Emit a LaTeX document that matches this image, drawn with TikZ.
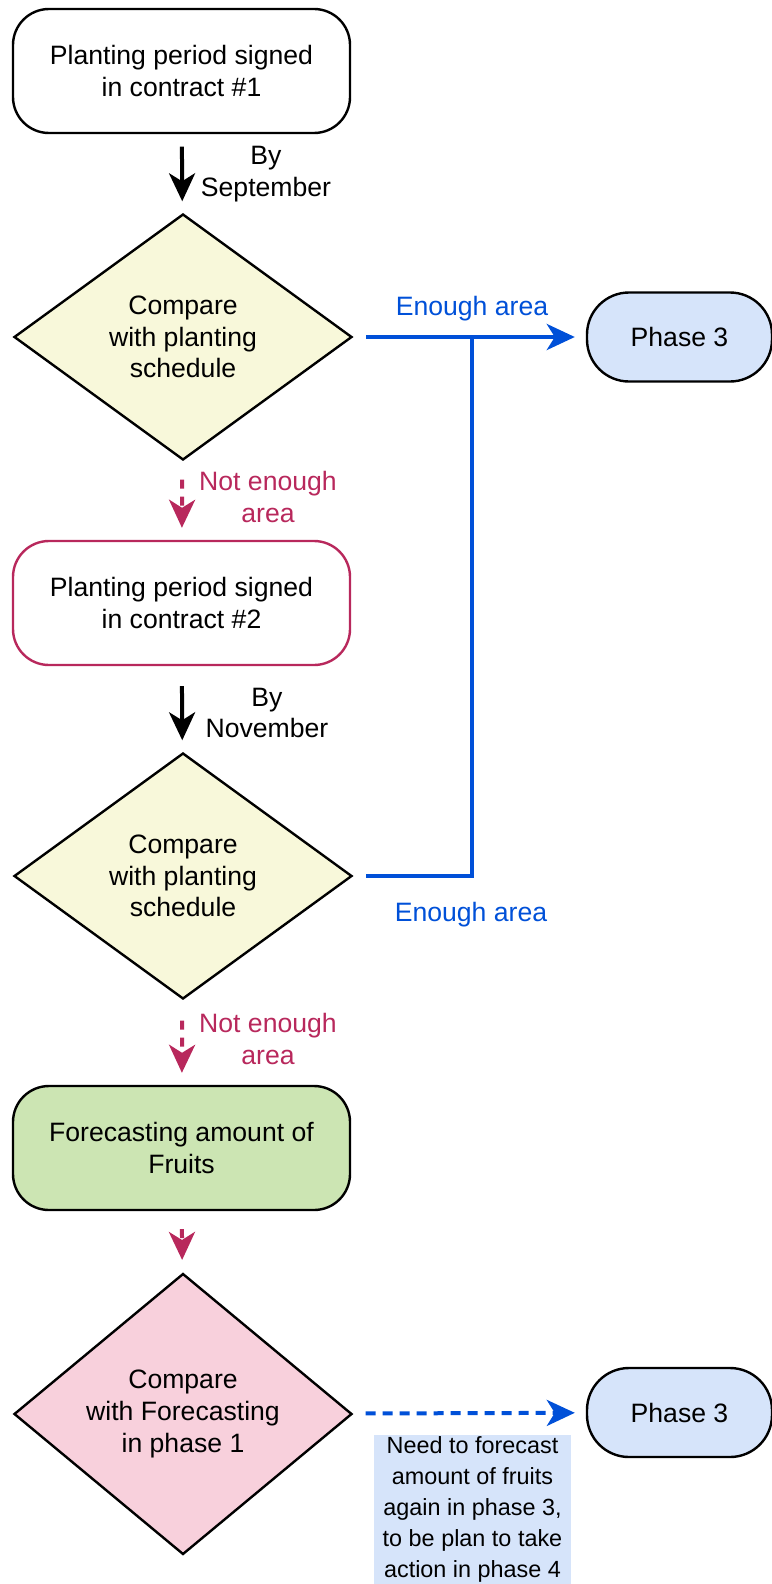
\documentclass[tikz,border=0pt]{standalone}
\usepackage{fontspec}
\setmainfont{Liberation Sans}
\usetikzlibrary{shapes.geometric,arrows.meta}
\definecolor{yelfill}{HTML}{F8F8DA}
\definecolor{grnfill}{HTML}{CCE5B3}
\definecolor{pnkfill}{HTML}{F8D0DC}
\definecolor{blufill}{HTML}{D6E4FA}
\definecolor{crimson}{HTML}{B8285C}
\definecolor{linkblue}{HTML}{0050D8}

\begin{document}
\begin{tikzpicture}[x=0.5pt,y=-0.5pt,
    font=\fontsize{13.3}{15.8}\selectfont,
    stepbox/.style={draw,line width=1.2pt,rounded corners=18pt,align=center,
      minimum width=168.5pt,minimum height=62pt,inner sep=0pt},
    checkbox/.style={diamond,draw,line width=1.2pt,align=center,
      minimum width=169pt,minimum height=123pt,inner sep=0pt},
    phasebox/.style={draw,line width=1.2pt,rounded corners=21pt,fill=blufill,
      minimum width=92.5pt,minimum height=44.5pt,inner sep=0pt},
    blackarrow/.style={line width=2pt,-{Stealth[length=14pt,width=13pt,inset=4pt]}},
    redarrow/.style={line width=2pt,crimson,dash pattern=on 4.5pt off 4pt,
      -{Stealth[length=14pt,width=13pt,inset=4pt]}},
    bluearrow/.style={line width=2pt,linkblue,-{Stealth[length=14pt,width=13pt,inset=4pt]}}]
  \useasboundingbox (0,0) rectangle (771,1584);
  % boxes and checks
  \node[stepbox] (b1) at (181.5,71) {Planting period signed\\in contract \#1};
  \node[checkbox,fill=yelfill] (d1) at (183,337) {Compare\\with planting\\schedule};
  \node[phasebox] (ph1) at (679.5,337) {Phase 3};
  \node[stepbox,draw=crimson] (b2) at (181.5,603) {Planting period signed\\in contract \#2};
  \node[checkbox,fill=yelfill] (d2) at (183,876) {Compare\\with planting\\schedule};
  \node[stepbox,fill=grnfill] (b3) at (181.5,1148) {Forecasting amount of\\Fruits};
  \node[checkbox,fill=pnkfill] (d3) at (183,1414) {Compare\\with Forecasting\\in phase 1};
  \node[phasebox] (ph2) at (679.5,1412.5) {Phase 3};
  \node[fill=blufill,minimum width=98.5pt,minimum height=74.5pt,inner sep=0pt,align=center,
    font=\fontsize{11.7}{15.4}\selectfont] (note) at (472.5,1509.5)
    {Need to forecast\\amount of fruits\\again in phase 3,\\to be plan to take\\action in phase 4};
  \coordinate (j1) at (472,337);
  % labels
  \node[align=center] (l1) at (266,174) {By\\September};
  \node[align=center] (l2) at (267,713) {By\\November};
  \node[align=center,crimson] (l3) at (268,497) {Not enough\\area};
  \node[align=center,crimson] (l4) at (268,1039) {Not enough\\area};
  \node[linkblue] (l5) at (472,309) {Enough area};
  \node[linkblue] (l6) at (471,915) {Enough area};
  % connectors
  \draw[blackarrow,shorten <=6.25pt,shorten >=6pt] (b1) -- (d1);
  \draw[redarrow,shorten <=9.5pt,shorten >=6pt] (d1) -- (b2);
  \draw[blackarrow,shorten <=10pt,shorten >=6pt] (b2) -- (d2);
  \draw[redarrow,shorten <=10.5pt,shorten >=6pt] (d2) -- (b3);
  \draw[redarrow,shorten <=9pt,shorten >=6.5pt] (b3) -- (d3);
  \draw[bluearrow,shorten <=6.5pt,shorten >=5.5pt] (d1) -- (ph1);
  \draw[line width=2pt,linkblue,shorten <=6.5pt] (d2.east) -| (j1);
  \draw[bluearrow,dash pattern=on 5pt off 3.5pt,shorten <=6.5pt,shorten >=5.5pt] (d3) -- (ph2);
\end{tikzpicture}
\end{document}
